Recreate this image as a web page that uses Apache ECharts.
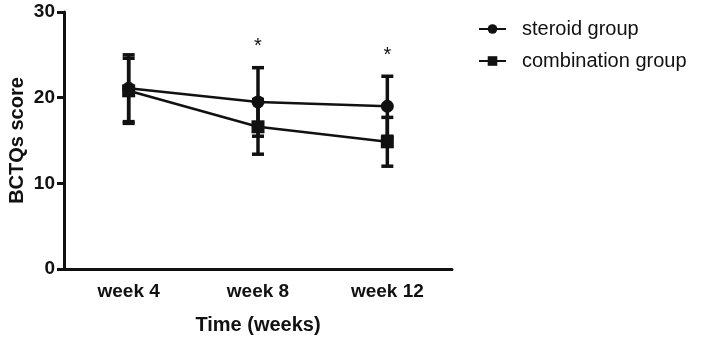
<!DOCTYPE html>
<html>
<head>
<meta charset="utf-8">
<script src="https://cdn.jsdelivr.net/npm/echarts@6/dist/echarts.min.js"></script>
<style>html,body{margin:0;padding:0;background:#fff;}#c{width:702px;height:337px;}</style>
</head>
<body>
<div id="c"></div>
<script>
const categories = ['week 4', 'week 8', 'week 12'];
const steroidMean = [21.1, 19.5, 19.0];
const steroidSD = [3.9, 4.0, 3.5];
const combMean = [20.8, 16.6, 14.85];
const combSD = [3.8, 3.2, 2.85];
const sigMarks = ['', '*', '*'];
const yTicks = [0, 10, 20, 30];

const FONT = 'Liberation Sans, Arial, sans-serif';
const INK = '#111';

function errData(mean, sd) {
  return mean.map((m, i) => [i, m - sd[i], m + sd[i]]);
}
function errRender(params, api) {
  const x = api.value(0);
  const lo = api.coord([x, api.value(1)]);
  const hi = api.coord([x, api.value(2)]);
  const hw = 6;
  const st = { stroke: INK, lineWidth: 3.5 };
  return {
    type: 'group',
    children: [
      { type: 'line', shape: { x1: hi[0], y1: hi[1], x2: lo[0], y2: lo[1] }, style: st },
      { type: 'line', shape: { x1: hi[0] - hw, y1: hi[1], x2: hi[0] + hw, y2: hi[1] }, style: st },
      { type: 'line', shape: { x1: lo[0] - hw, y1: lo[1], x2: lo[0] + hw, y2: lo[1] }, style: st }
    ]
  };
}
const sigData = categories.map((c, i) => [i, Math.max(steroidMean[i] + steroidSD[i], combMean[i] + combSD[i]), sigMarks[i]]);

const chart = echarts.init(document.getElementById('c'));
chart.setOption({
  animation: false,
  backgroundColor: '#fff',
  grid: { left: 64, right: 250, top: 12, bottom: 68, containLabel: false, outerBoundsMode: 'none' },
  legend: {
    orient: 'vertical',
    left: 478,
    top: 19,
    padding: 0,
    itemWidth: 27,
    itemHeight: 12,
    itemGap: 12,
    data: ['steroid group', 'combination group'],
    textStyle: { fontFamily: FONT, fontSize: 20, color: INK, padding: [0, 0, 0, 11] }
  },
  xAxis: {
    type: 'category',
    data: categories,
    boundaryGap: true,
    name: 'Time (weeks)',
    nameLocation: 'middle',
    nameGap: 46,
    nameMoveOverlap: false,
    nameTextStyle: { fontFamily: FONT, fontSize: 20, fontWeight: 'bold', color: INK },
    axisLine: { lineStyle: { color: INK, width: 3 } },
    axisTick: { alignWithLabel: true, length: 8, lineStyle: { color: INK, width: 3 } },
    axisLabel: { fontFamily: FONT, fontSize: 19, fontWeight: 'bold', color: INK, margin: 13 },
    splitLine: { show: false }
  },
  yAxis: {
    type: 'value',
    min: yTicks[0],
    max: yTicks[yTicks.length - 1],
    interval: 10,
    name: 'BCTQs score',
    nameLocation: 'middle',
    nameGap: 37,
    nameMoveOverlap: false,
    nameTextStyle: { fontFamily: FONT, fontSize: 20, fontWeight: 'bold', color: INK },
    axisLine: { show: true, lineStyle: { color: INK, width: 3 } },
    axisTick: { show: true, inside: false, length: 7, lineStyle: { color: INK, width: 3 } },
    axisLabel: { fontFamily: FONT, fontSize: 19, fontWeight: 'bold', color: INK, margin: 9 },
    splitLine: { show: false }
  },
  series: [
    {
      type: 'custom', name: 'steroid err', renderItem: errRender, data: errData(steroidMean, steroidSD),
      encode: { x: 0, y: [1, 2] }, z: 3, silent: true
    },
    {
      type: 'custom', name: 'comb err', renderItem: errRender, data: errData(combMean, combSD),
      encode: { x: 0, y: [1, 2] }, z: 3, silent: true
    },
    {
      type: 'line', name: 'steroid group', data: steroidMean,
      symbol: 'circle', symbolSize: 13,
      lineStyle: { color: INK, width: 2.5 }, itemStyle: { color: INK }, z: 4
    },
    {
      type: 'line', name: 'combination group', data: combMean,
      symbol: 'rect', symbolSize: 13,
      lineStyle: { color: INK, width: 2.5 }, itemStyle: { color: INK }, z: 4
    },
    {
      type: 'custom', name: 'sig', data: sigData, encode: { x: 0, y: 1 }, silent: true, z: 5,
      renderItem: function (params, api) {
        const p = api.coord([api.value(0), api.value(1)]);
        return {
          type: 'text',
          style: {
            text: sigMarks[params.dataIndex], x: p[0], y: p[1] - 11,
            textAlign: 'center', textVerticalAlign: 'bottom',
            font: '20px ' + FONT, fill: INK
          }
        };
      }
    }
  ]
});
</script>
</body>
</html>
